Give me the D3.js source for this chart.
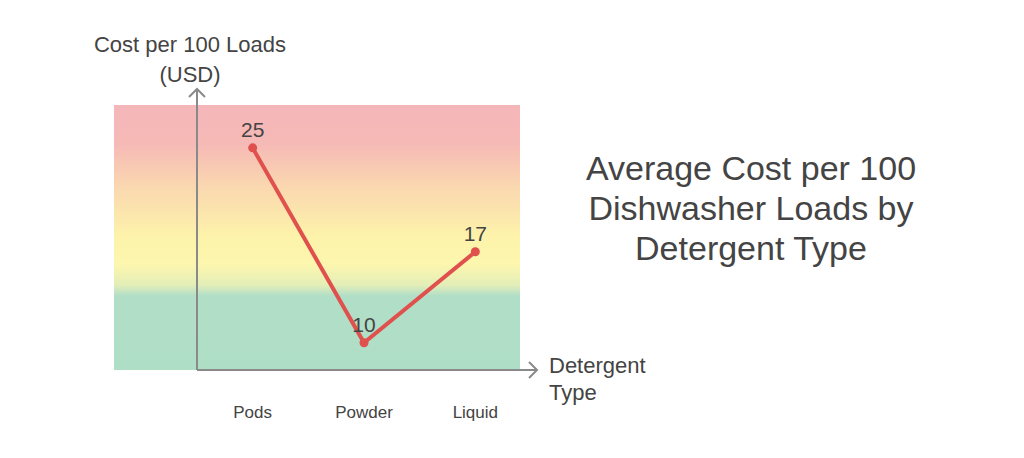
<!DOCTYPE html>
<html>
<head>
<meta charset="utf-8">
<script src="https://cdn.jsdelivr.net/npm/d3@7"></script>
<style>
  body { margin: 0; background: #fff; }
  text { font-family: "Liberation Sans", Arial, sans-serif; fill: #444; }
</style>
</head>
<body>
<div id="chart"></div>
<script>
// data
const categories = ["Pods", "Powder", "Liquid"];
const costs = [25, 10, 17];
const titleLines = ["Average Cost per 100", "Dishwasher Loads by", "Detergent Type"];
const yTitle = ["Cost per 100 Loads", "(USD)"];
const xTitle = ["Detergent", "Type"];

const W = 1024, H = 458;
const plot = { left: 197, right: 531, top: 105, bottom: 370 };

const svg = d3.select("#chart")
  .append("svg")
    .attr("width", W)
    .attr("height", H);

const x = d3.scalePoint()
  .domain(categories)
  .range([plot.left, plot.right])
  .padding(0.5);

const y = d3.scaleLinear()
  .domain([7.9, 28.3])
  .range([plot.bottom, plot.top]);

// background gradient band
const grad = svg.append("defs").append("linearGradient")
  .attr("id", "bg")
  .attr("x1", 0).attr("y1", 0).attr("x2", 0).attr("y2", 1);
[
  [0, "#f5b6b9"], [0.15, "#f6bab6"], [0.3, "#fad6b0"],
  [0.5, "#fdf3aa"], [0.6, "#fdf6ae"], [0.68, "#e3eeb8"],
  [0.72, "#b1dec7"], [1, "#afdec7"]
].forEach(([o, c]) => grad.append("stop").attr("offset", o).attr("stop-color", c));

svg.append("rect")
  .attr("x", 114)
  .attr("y", plot.top)
  .attr("width", 520 - 114)
  .attr("height", plot.bottom - plot.top)
  .attr("fill", "url(#bg)");

// axes with open arrow heads
const axisColor = "#8a8a8a";
svg.append("line")
  .attr("x1", plot.left).attr("y1", plot.bottom)
  .attr("x2", plot.left).attr("y2", 89)
  .attr("stroke", axisColor).attr("stroke-width", 2);
svg.append("path")
  .attr("d", `M${plot.left - 8},${97} L${plot.left},${89} L${plot.left + 8},${97}`)
  .attr("fill", "none").attr("stroke", axisColor).attr("stroke-width", 2);

svg.append("line")
  .attr("x1", plot.left).attr("y1", plot.bottom)
  .attr("x2", 537).attr("y2", plot.bottom)
  .attr("stroke", axisColor).attr("stroke-width", 2);
svg.append("path")
  .attr("d", `M${529},${plot.bottom - 8} L${537},${plot.bottom} L${529},${plot.bottom + 8}`)
  .attr("fill", "none").attr("stroke", axisColor).attr("stroke-width", 2);

// category labels
svg.selectAll(".cat")
  .data(categories)
  .join("text")
    .attr("class", "cat")
    .attr("x", d => x(d))
    .attr("y", 418)
    .attr("text-anchor", "middle")
    .style("font-size", "17px")
    .text(d => d);

// line + dots
const pts = categories.map((c, i) => ({ c, v: costs[i] }));
const line = d3.line()
  .x(d => x(d.c))
  .y(d => y(d.v));

svg.append("path")
  .datum(pts)
  .attr("d", line)
  .attr("fill", "none")
  .attr("stroke", "#e0504d")
  .attr("stroke-width", 4)
  .attr("stroke-linejoin", "round");

svg.selectAll(".dot")
  .data(pts)
  .join("circle")
    .attr("class", "dot")
    .attr("cx", d => x(d.c))
    .attr("cy", d => y(d.v))
    .attr("r", 4.5)
    .attr("fill", "#e0504d");

svg.selectAll(".val")
  .data(pts)
  .join("text")
    .attr("class", "val")
    .attr("x", d => x(d.c))
    .attr("y", d => y(d.v) - 11)
    .attr("text-anchor", "middle")
    .style("font-size", "21px")
    .text(d => d.v);

// axis titles
svg.selectAll(".ytitle")
  .data(yTitle)
  .join("text")
    .attr("class", "ytitle")
    .attr("x", 190)
    .attr("y", (d, i) => 52 + i * 30)
    .attr("text-anchor", "middle")
    .style("font-size", "22px")
    .text(d => d);

svg.selectAll(".xtitle")
  .data(xTitle)
  .join("text")
    .attr("class", "xtitle")
    .attr("x", 549)
    .attr("y", (d, i) => 373 + i * 27)
    .style("font-size", "22px")
    .text(d => d);

// chart title
svg.selectAll(".title")
  .data(titleLines)
  .join("text")
    .attr("class", "title")
    .attr("x", 751)
    .attr("y", (d, i) => 180 + i * 40)
    .attr("text-anchor", "middle")
    .style("font-size", "34px")
    .text(d => d);
</script>
</body>
</html>
